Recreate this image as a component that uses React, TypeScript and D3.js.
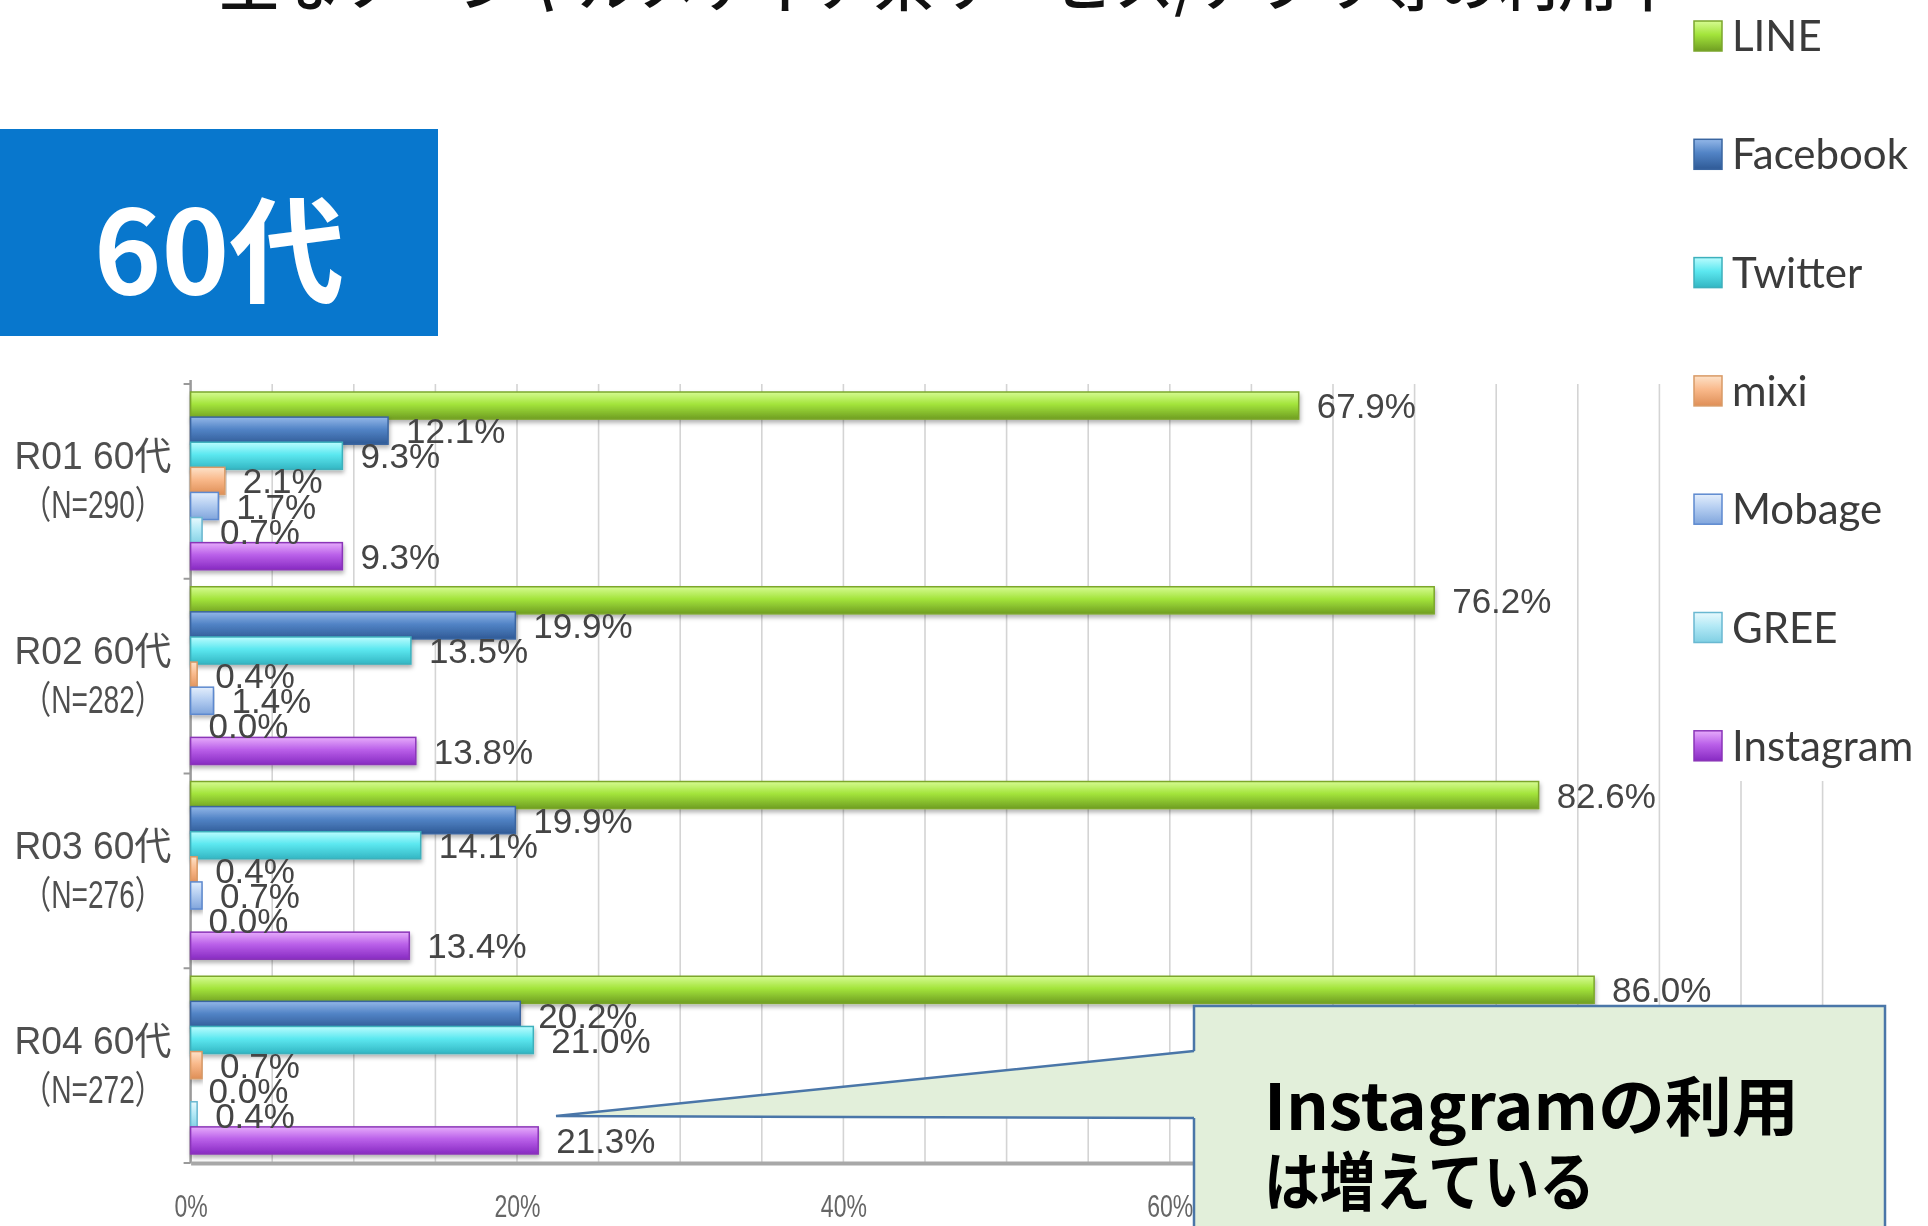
import React from "react";
import * as d3 from "d3";

// survey rounds (rows) and sample sizes
const categories = ["R01 60代", "R02 60代", "R03 60代", "R04 60代"];
const sampleSizes = ["（N=290）", "（N=282）", "（N=276）", "（N=272）"];
const services = ["LINE", "Facebook", "Twitter", "mixi", "Mobage", "GREE", "Instagram"];

// usage rate (%) per service, one value per round
const lineValues = [67.9, 76.2, 82.6, 86.0];
const facebookValues = [12.1, 19.9, 19.9, 20.2];
const twitterValues = [9.3, 13.5, 14.1, 21.0];
const mixiValues = [2.1, 0.4, 0.4, 0.7];
const mobageValues = [1.7, 1.4, 0.7, 0.0];
const greeValues = [0.7, 0.0, 0.0, 0.4];
const instagramValues = [9.3, 13.8, 13.4, 21.3];
const seriesValues = [lineValues, facebookValues, twitterValues, mixiValues, mobageValues, greeValues, instagramValues];

const xTickValues = [0, 20, 40, 60, 80, 100];
const gridValues = d3.range(5, 101, 5);

const titleText = "主なソーシャルメディア系サービス/アプリ等の利用率";
const ageText = "60代";
const calloutLines = ["Instagramの利用", "は増えている"];

// light / base / dark / stroke
const palette = [
  ["#d6fb92", "#a3e43b", "#6f9e22", "#7ba62c"],
  ["#93b7e8", "#5284c6", "#2f5a96", "#3a65a0"],
  ["#bafcfe", "#5ce8f0", "#33b6c3", "#3db0bc"],
  ["#fde2c9", "#f9b98b", "#df8f57", "#d99a66"],
  ["#e3eefc", "#b5cef1", "#80a5dc", "#5d89cf"],
  ["#e8f9fd", "#b3e9f6", "#80cfe3", "#69b8d1"],
  ["#e6abfb", "#ba60e9", "#872ac2", "#8a35b8"],
];

const W = 1928;
const H = 1226;

const App = () => {
  const svgRef = React.useRef<SVGSVGElement>(null);

  React.useEffect(() => {
    const svgEl = d3.select(svgRef.current);
    svgEl.selectAll("*").remove();
    const defs = svgEl.append("defs");

    palette.forEach((c, i) => {
      const g = defs.append("linearGradient")
        .attr("id", `grad${i}`)
        .attr("x1", 0).attr("y1", 0).attr("x2", 0).attr("y2", 1);
      g.append("stop").attr("offset", "0%").attr("stop-color", c[0]);
      g.append("stop").attr("offset", "45%").attr("stop-color", c[1]);
      g.append("stop").attr("offset", "100%").attr("stop-color", c[2]);
    });
    defs.append("filter").attr("id", "shadow")
      .attr("x", "-5%").attr("y", "-30%").attr("width", "110%").attr("height", "180%")
      .append("feDropShadow")
      .attr("dx", 1).attr("dy", 3).attr("stdDeviation", 2)
      .attr("flood-color", "#000").attr("flood-opacity", 0.3);
    defs.append("filter").attr("id", "soft")
      .append("feGaussianBlur").attr("stdDeviation", 0.7);

    const x = d3.scaleLinear().domain([0, 100]).range([190.6, 1822.6]);
    const y0 = d3.scaleBand<string>().domain(categories).range([384, 1163]);
    const y1 = d3.scaleBand<string>().domain(services).range([8, y0.bandwidth() - 11]);
    const barH = y1.bandwidth() + 2;

    // title, cut off at the top
    svgEl.append("text")
      .attr("x", 219).attr("y", 6)
      .attr("textLength", 1459).attr("lengthAdjust", "spacingAndGlyphs")
      .attr("font-family", "Noto Sans CJK JP")
      .attr("font-weight", 500)
      .attr("font-size", 60)
      .attr("fill", "#111")
      .text(titleText);

    // blue age box
    svgEl.append("rect")
      .attr("x", 0).attr("y", 129).attr("width", 438).attr("height", 207)
      .attr("fill", "#0877cd");
    svgEl.append("text")
      .attr("x", 219).attr("y", 294)
      .attr("text-anchor", "middle")
      .attr("font-family", "Noto Sans CJK JP")
      .attr("font-weight", 700)
      .attr("font-size", 115)
      .attr("fill", "#fff")
      .text(ageText);

    const chart = svgEl.append("g");

    // vertical grid lines every 5%
    chart.append("g").selectAll("line")
      .data(gridValues)
      .enter()
      .append("line")
      .attr("x1", (d) => x(d)).attr("x2", (d) => x(d))
      .attr("y1", 384).attr("y2", 1163)
      .attr("stroke", "#d4d4d4")
      .attr("stroke-width", 1.6);

    // category axis
    chart.append("line")
      .attr("x1", x(0)).attr("x2", x(0))
      .attr("y1", 380).attr("y2", 1163)
      .attr("stroke", "#9a9a9a").attr("stroke-width", 2.5);
    chart.append("g").selectAll("line")
      .data(categories.concat(["end"]))
      .enter()
      .append("line")
      .attr("x1", x(0) - 7).attr("x2", x(0))
      .attr("y1", (d, i) => 384 + i * y0.bandwidth())
      .attr("y2", (d, i) => 384 + i * y0.bandwidth())
      .attr("stroke", "#9a9a9a").attr("stroke-width", 2);

    // value axis
    const xAxis = d3.axisBottom(x)
      .tickValues(xTickValues)
      .tickSize(0)
      .tickPadding(31)
      .tickFormat((d) => `${d}%`);
    const xAxisGroup = chart.append("g")
      .attr("transform", `translate(0, 1163)`)
      .call(xAxis);
    xAxisGroup.select(".domain")
      .attr("stroke", "#a8a8a8").attr("stroke-width", 4);
    xAxisGroup.selectAll("text")
      .attr("font-family", "Liberation Sans, Arial, sans-serif")
      .attr("font-size", 32)
      .attr("fill", "#666")
      .attr("transform", "scale(0.72,1)")
      .attr("filter", "url(#soft)");

    // category labels
    const catLabels = chart.append("g").selectAll("g")
      .data(categories)
      .enter()
      .append("g")
      .attr("transform", (d) => `translate(93, ${(y0(d) as number) + y0.bandwidth() / 2})`)
      .attr("font-family", "Liberation Sans, Arial, Noto Sans CJK JP, sans-serif")
      .attr("font-size", 38)
      .attr("fill", "#505050")
      .attr("text-anchor", "middle")
      .attr("filter", "url(#soft)");
    catLabels.append("text")
      .attr("y", -12)
      .attr("textLength", 157).attr("lengthAdjust", "spacingAndGlyphs")
      .text((d) => d);
    catLabels.append("text")
      .attr("y", 37)
      .attr("textLength", 140).attr("lengthAdjust", "spacingAndGlyphs")
      .text((d, i) => sampleSizes[i]);

    // bars
    const groups = chart.append("g").selectAll("g")
      .data(categories)
      .enter()
      .append("g")
      .attr("transform", (d) => `translate(0, ${y0(d)})`);

    groups.selectAll("rect")
      .data((d, ci) => services.map((s, si) => ({ s, si, v: seriesValues[si][ci] })))
      .enter()
      .append("rect")
      .attr("x", x(0))
      .attr("y", (d) => y1(d.s) as number)
      .attr("width", (d) => x(d.v) - x(0))
      .attr("height", barH)
      .attr("fill", (d) => `url(#grad${d.si})`)
      .attr("stroke", (d) => palette[d.si][3])
      .attr("stroke-width", (d) => (d.v > 0 ? 1.5 : 0))
      .attr("filter", "url(#shadow)");

    // data labels
    groups.selectAll("text")
      .data((d, ci) => services.map((s, si) => ({ s, si, v: seriesValues[si][ci] })))
      .enter()
      .append("text")
      .attr("x", (d) => x(d.v) + 18)
      .attr("y", (d) => (y1(d.s) as number) + barH / 2)
      .attr("dy", "0.36em")
      .attr("font-family", "Liberation Sans, Arial, sans-serif")
      .attr("font-size", 35)
      .attr("fill", "#444")
      .attr("filter", "url(#soft)")
      .text((d) => `${d3.format(".1f")(d.v)}%`);

    // legend panel
    svgEl.append("rect")
      .attr("x", 1665).attr("y", 15).attr("width", W - 1665).attr("height", 766)
      .attr("fill", "#fff");
    const legend = svgEl.append("g").selectAll("g")
      .data(services)
      .enter()
      .append("g")
      .attr("transform", (d, i) => `translate(1694, ${36 + i * 118.3})`);
    legend.append("rect")
      .attr("x", 0).attr("y", -15).attr("width", 28).attr("height", 30)
      .attr("fill", (d, i) => `url(#grad${i})`)
      .attr("stroke", (d, i) => palette[i][3])
      .attr("stroke-width", 1.5);
    legend.append("text")
      .attr("x", 38).attr("y", 15)
      .attr("font-family", "Lato, Open Sans, sans-serif")
      .attr("font-size", 42)
      .attr("fill", "#3a3a3a")
      .attr("filter", "url(#soft)")
      .text((d) => d);

    // callout
    const callout = svgEl.append("g");
    callout.append("rect")
      .attr("x", 1194).attr("y", 1006).attr("width", 691).attr("height", 240)
      .attr("fill", "#e2efda")
      .attr("stroke", "#4a76a8").attr("stroke-width", 2.5);
    callout.append("path")
      .attr("d", "M1196,1051 L556,1116 L1196,1118 Z")
      .attr("fill", "#e2efda");
    callout.append("path")
      .attr("d", "M1194,1051 L556,1116 L1194,1118")
      .attr("fill", "none")
      .attr("stroke", "#4a76a8").attr("stroke-width", 2.5);
    callout.selectAll("text")
      .data(calloutLines)
      .enter()
      .append("text")
      .attr("x", 1264)
      .attr("y", (d, i) => 1130 + i * 75)
      .attr("textLength", (d, i) => (i === 0 ? 535 : 331))
      .attr("lengthAdjust", "spacingAndGlyphs")
      .attr("font-family", "Noto Sans CJK JP")
      .attr("font-weight", 700)
      .attr("font-size", 64)
      .attr("fill", "#000")
      .text((d) => d);
  }, []);

  return (
    <svg
      ref={svgRef}
      width={W}
      height={H}
      style={{ position: "absolute", left: 0, top: 0, background: "#fff" }}
    />
  );
};

export default App;
